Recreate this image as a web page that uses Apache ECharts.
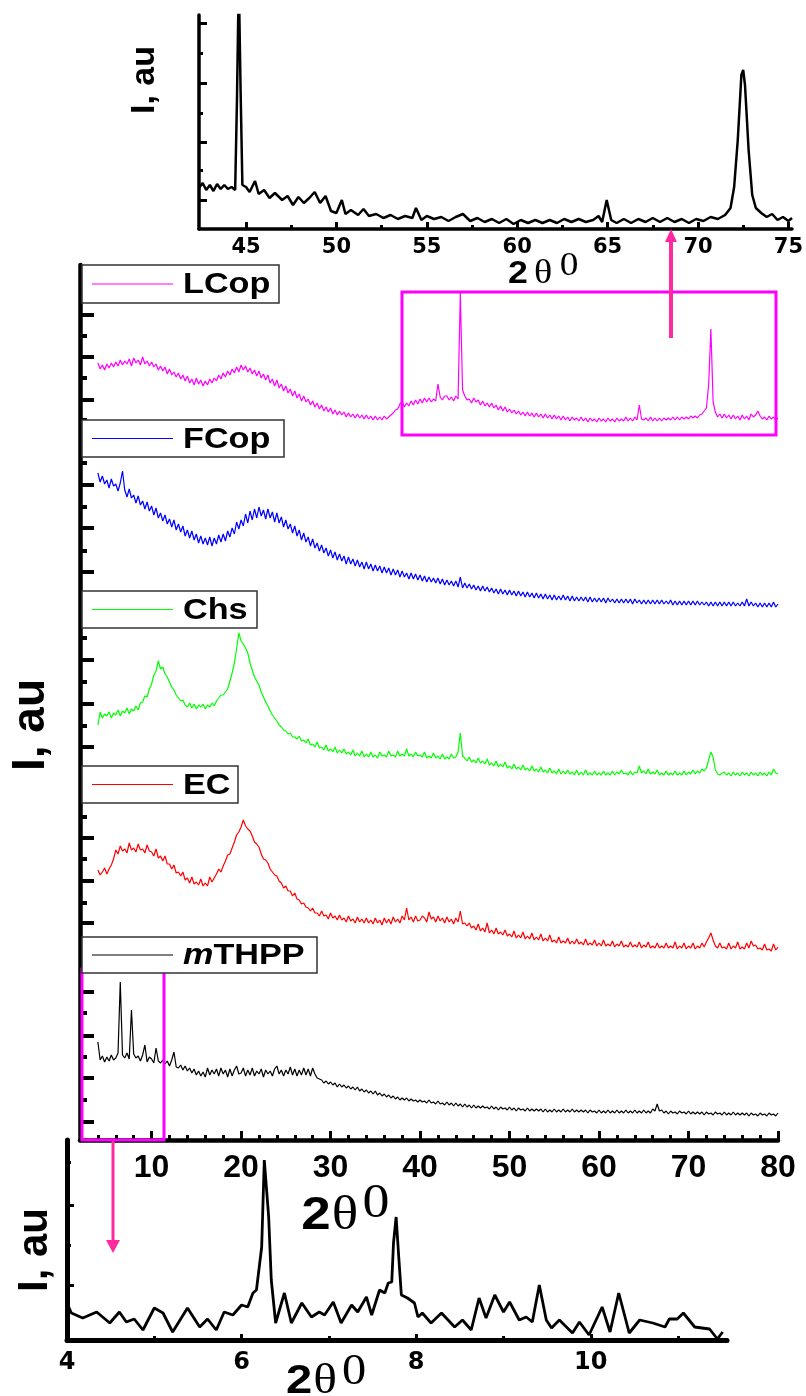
<!DOCTYPE html>
<html><head><meta charset="utf-8">
<script src="https://cdn.jsdelivr.net/npm/echarts@6/dist/echarts.min.js"></script>
<style>html,body{margin:0;padding:0;background:#fff}#c{width:806px;height:1396px}</style>
</head><body><div id="c"></div>
<script>
// ---------------- DATA ----------------
const seriesNames = ['LCop', 'FCop', 'Chs', 'EC', 'mTHPP'];
// vertical stacking offsets of each pattern (au)
const seriesOffsets = [710, 530, 355, 180, 0];

// measurement angles (2θ, degrees) of the main panel
const twoTheta = [4,4.25,4.5,4.75,5,5.25,5.5,5.75,6,6.25,6.5,6.75,7,7.25,7.5,7.75,8,8.25,8.5,8.75,9,9.25,9.5,9.75,10,10.25,10.5,10.75,11,11.25,11.5,11.75,12,12.25,12.5,12.75,13,13.25,13.5,13.75,14,14.25,14.5,14.75,15,15.25,15.5,15.75,16,16.25,16.5,16.75,17,17.25,17.5,17.75,18,18.25,18.5,18.75,19,19.25,19.5,19.75,20,20.25,20.5,20.75,21,21.25,21.5,21.75,22,22.25,22.5,22.75,23,23.25,23.5,23.75,24,24.25,24.5,24.75,25,25.25,25.5,25.75,26,26.25,26.5,26.75,27,27.25,27.5,27.75,28,28.25,28.5,28.75,29,29.25,29.5,29.75,30,30.25,30.5,30.75,31,31.25,31.5,31.75,32,32.25,32.5,32.75,33,33.25,33.5,33.75,34,34.25,34.5,34.75,35,35.25,35.5,35.75,36,36.25,36.5,36.75,37,37.25,37.5,37.75,38,38.25,38.5,38.75,39,39.25,39.5,39.75,40,40.25,40.5,40.75,41,41.25,41.5,41.75,42,42.25,42.5,42.75,43,43.25,43.5,43.75,44,44.25,44.5,44.75,45,45.25,45.5,45.75,46,46.25,46.5,46.75,47,47.25,47.5,47.75,48,48.25,48.5,48.75,49,49.25,49.5,49.75,50,50.25,50.5,50.75,51,51.25,51.5,51.75,52,52.25,52.5,52.75,53,53.25,53.5,53.75,54,54.25,54.5,54.75,55,55.25,55.5,55.75,56,56.25,56.5,56.75,57,57.25,57.5,57.75,58,58.25,58.5,58.75,59,59.25,59.5,59.75,60,60.25,60.5,60.75,61,61.25,61.5,61.75,62,62.25,62.5,62.75,63,63.25,63.5,63.75,64,64.25,64.5,64.75,65,65.25,65.5,65.75,66,66.25,66.5,66.75,67,67.25,67.5,67.75,68,68.25,68.5,68.75,69,69.25,69.5,69.75,70,70.25,70.5,70.75,71,71.25,71.5,71.75,72,72.25,72.5,72.75,73,73.25,73.5,73.75,74,74.25,74.5,74.75,75,75.25,75.5,75.75,76,76.25,76.5,76.75,77,77.25,77.5,77.75,78,78.25,78.5,78.75,79,79.25,79.5,79.75,80];

const LCop = [67,61,65,60, 66,62,67,63, 68,64,70,65, 69,66,71,64, 72,67,70,65, 73,66,69,64, 68,63,66,60, 64,59,63,56, 61,55,58,53, 57,51,55,49, 54,47,51,45, 52,46,50,44, 49,45,51,47, 52,49,55,51, 57,53,59,55, 61,57,63,58, 65,60,64,58, 62,56,60,54, 59,52,56,50, 55,47,51,44, 50,42,46,39, 44,37,41,34, 39,32,36,29, 34,28,31,25, 29,23,27,21, 25,19,23,18, 22,16,20,15, 19,15,18,13, 17,13,16,12, 16,12,15,11, 15,11,14,10, 14,10,13,10, 14,11,13,15, 17,20,21,26, 28,23,27,24, 29,25,30,26, 31,27,32,28, 32,28,31,29, 46,33,30,34, 34,30,33,29, 34,31,137,40, 34,30,31,27, 32,28,30,25, 29,24,27,23, 27,22,25,20, 24,19,23,18, 21,17,20,16, 19,15,18,14, 18,14,17,13, 17,13,16,12, 16,12,15,11, 15,11,14,10, 14,10,13,9, 13,10,12,9, 13,9,12,8, 12,9,11,8, 12,9,11,8, 12,9,11,8, 12,9,11,9, 13,9,12,9, 13,10,25,11, 10,12,9,13, 9,12,9,12, 9,12,10,12, 10,13,10,13, 10,13,11,13, 11,14,12,14, 12,15,16,19, 22,45,101,28, 18,13,16,12, 16,12,15,11, 15,11,14,10, 15,11,14,10, 16,13,15,19, 14,11,13,10, 14,11,13,10, 12];

const FCop = [137,128,134,126, 130,122,131,124, 126,119,127,139, 120,113,121,112, 115,107,114,105, 109,101,108,99, 104,95,102,92, 97,89,95,86, 91,83,90,80, 86,78,84,74, 80,72,79,70, 76,67,74,66, 72,65,73,64, 72,66,75,68, 76,69,79,73, 82,76,88,81, 90,84,96,87, 99,90,101,92, 103,94,100,91, 101,92,98,88, 97,87,93,83, 90,81,86,77, 84,74,80,70, 77,68,73,64, 71,62,67,59, 65,57,62,54, 60,52,58,50, 56,49,54,46, 53,46,51,44, 50,43,48,41, 48,41,46,39, 45,39,44,37, 43,37,42,35, 41,35,40,33, 39,33,37,31, 37,31,36,30, 35,29,34,28, 33,28,32,27, 32,26,31,25, 30,25,29,24, 29,23,33,22, 27,22,26,21, 25,20,24,19, 24,19,23,18, 22,17,21,16, 21,16,20,15, 20,15,19,14, 19,14,18,13, 18,13,17,12, 17,12,16,11, 16,11,15,10, 15,10,14,10, 15,10,14,9, 14,9,13,9, 13,9,13,8, 13,8,12,8, 12,8,12,7, 12,8,11,7, 11,7,11,7, 11,7,11,6, 11,7,10,6, 10,6,10,6, 10,6,10,6, 10,6,9,6, 10,5,9,5, 9,5,9,5, 9,5,9,5, 9,5,8,5, 8,4,8,4, 8,4,8,4, 8,4,8,4, 8,4,7,4, 8,4,11,4, 8,4,7,3, 7,3,7,3, 7,3,8,3, 6];

const Chs = [60,73,67,71, 69,73,67,72, 70,75,69,74, 72,77,71,76, 74,79,75,82, 83,89,88,96, 101,110,114,124, 116,118,111,108, 103,98,95,90, 87,84,85,80, 78,82,77,81, 76,80,78,81, 76,80,78,82, 79,84,87,90, 90,93,96,104, 112,122,136,152, 144,141,137,132, 122,115,108,104, 100,93,88,83, 79,74,70,67, 64,60,58,55, 54,51,52,48, 48,46,49,44, 45,42,46,40, 41,38,43,37, 38,35,40,34, 36,33,38,32, 35,32,36,31, 33,30,35,29, 32,29,34,28, 31,28,33,28, 30,27,33,29, 30,28,34,29, 30,28,34,29, 31,29,36,29, 31,28,33,29, 30,28,33,27, 29,27,32,27, 29,26,31,26, 28,26,31,27, 28,33,52,29, 27,24,28,23, 25,22,27,22, 24,21,26,20, 22,19,24,18, 21,18,23,17, 19,16,21,16, 18,15,20,15, 17,14,19,14, 16,13,18,13, 15,12,17,12, 14,11,16,11, 14,11,15,11, 13,10,15,10, 13,10,15,10, 12,10,14,10, 12,10,14,10, 12,10,14,10, 13,11,15,11, 12,10,14,10, 13,12,19,12, 14,11,16,11, 13,11,15,10, 12,10,14,10, 12,10,14,10, 12,10,14,10, 13,11,15,11, 14,12,16,14, 17,25,33,28, 15,11,10,12, 13,10,12,9, 13,10,12,9, 13,10,12,9, 13,10,12,9, 13,10,12,9, 13,10,16,12, 11];

const EC = [90,85,88,92, 86,91,95,101, 110,106,114,109, 111,107,117,110, 112,108,116,110, 111,107,115,109, 108,104,111,102, 104,99,104,96, 96,91,95,87, 88,84,88,80, 82,77,83,76, 78,75,81,74, 77,74,83,78, 82,86,91,88, 94,99,105,106, 112,118,125,128, 133,140,134,131, 129,124,118,116, 113,106,101,100, 97,91,88,85, 84,79,77,72, 74,69,69,64, 67,61,60,56, 57,53,52,49, 52,47,47,44, 49,44,45,41, 47,42,44,40, 45,40,42,38, 44,39,41,37, 43,38,41,37, 42,37,40,36, 42,37,40,35, 42,37,41,36, 43,38,41,37, 44,40,52,40, 43,38,44,39, 40,44,42,38, 48,41,43,38, 44,39,42,37, 43,38,41,36, 42,38,49,36, 37,34,37,32, 34,30,36,29, 32,28,37,27, 30,26,32,26, 28,25,30,24, 26,23,29,22, 25,22,28,21, 24,21,27,20, 23,20,26,19, 22,19,25,18, 20,17,23,17, 19,17,22,16, 19,16,21,16, 18,15,21,15, 17,15,20,14, 17,14,20,14, 16,14,19,13, 16,14,19,13, 15,13,18,13, 15,13,18,12, 15,13,18,12, 14,12,17,12, 14,12,17,12, 14,12,18,11, 14,12,17,11, 14,12,17,11, 14,12,17,13, 18,22,27,20, 14,12,17,12, 13,11,17,11, 14,12,18,11, 13,11,17,12, 19,14,15,11, 12,10,16,10, 11,9,16,10, 13];

const mTHPP = [98,80,84,78, 83,79,85,80, 82,87,158,85, 82,87,81,130, 86,82,84,79, 85,95,78,83, 81,77,92,79, 77,80,76,79, 74,80,88,73, 72,75,70,74, 69,72,67,71, 65,69,64,68, 63,72,65,70, 66,71,64,72, 66,70,63,71, 64,70,74,66, 67,72,64,70, 65,72,64,69, 66,71,63,70, 66,69,64,71, 74,66,70,64, 70,66,73,65, 71,64,70,65, 72,65,71,64, 72,66,62,61, 60,57,59,56, 58,55,57,53, 56,53,55,52, 54,51,53,50, 53,49,51,48, 50,47,49,46, 49,45,47,44, 46,43,45,42, 44,41,43,40, 42,40,42,39, 41,39,40,38, 40,38,39,37, 40,37,38,36, 39,36,37,35, 38,35,37,34, 37,34,36,33, 36,33,35,32, 35,32,34,32, 34,32,33,31, 34,31,33,30, 33,31,32,30, 33,30,32,29, 32,30,31,29, 32,29,31,29, 31,29,31,28, 31,28,30,28, 31,28,30,28, 31,28,30,28, 31,28,30,28, 30,28,30,27, 30,28,29,27, 30,27,29,27, 30,27,29,27, 30,27,29,27, 30,27,29,27, 30,27,29,27, 30,27,29,27, 31,29,36,29, 30,27,29,26, 29,27,28,26, 29,27,28,26, 29,26,28,26, 28,26,28,25, 28,26,27,25, 28,26,27,25, 28,25,27,25, 28,25,27,25, 27,25,27,24, 27,25,26,24, 27,25,26,24, 27,25,26,24, 27];

// top inset: LCop, 2theta 42.4 - 75.2  [2θ, I]
const lcopZoom = [[42.4,41],[42.6,46],[42.8,39],[43,44],[43.2,38],[43.4,45],[43.6,40],[43.8,44],[44,40],[44.2,42],[44.4,39],[44.5,129],[44.6,250],[44.7,139],[44.8,44],[45,42],[45.2,37],[45.5,48],[45.7,35],[46,39],[46.3,31],[46.6,36],[47,29],[47.3,33],[47.6,24],[47.9,32],[48.2,26],[48.5,31],[48.8,37],[49.1,26],[49.4,33],[49.7,18],[50,16],[50.3,29],[50.5,15],[50.8,19],[51.2,14],[51.5,20],[51.8,13],[52.2,15],[52.6,11],[53,14],[53.4,10],[53.8,13],[54.2,11],[54.4,21],[54.7,9],[55,13],[55.4,10],[55.8,12],[56.2,8],[56.6,12],[57,15],[57.4,8],[57.8,11],[58.2,7],[58.6,10],[59,6],[59.4,10],[59.8,5],[60.2,9],[60.6,6],[61,9],[61.4,6],[61.8,9],[62.2,6],[62.6,10],[63,7],[63.4,10],[63.8,7],[64.2,9],[64.5,13],[64.7,7],[64.95,29],[65.2,9],[65.5,6],[65.9,10],[66.3,6],[66.7,10],[67.1,7],[67.5,11],[67.9,7],[68.3,11],[68.7,7],[69.1,10],[69.5,6],[69.9,10],[70.3,8],[70.7,12],[71.1,10],[71.5,14],[71.8,21],[72,42],[72.2,89],[72.4,154],[72.5,159],[72.6,144],[72.8,79],[73,34],[73.2,21],[73.5,16],[73.8,12],[74.1,15],[74.4,9],[74.7,12],[75,8],[75.2,11]];

// bottom inset: mTHPP, 2theta 4 - 11.55  [2θ, I]
const mthppZoom = [[4,37],[4.05,27],[4.18,22],[4.34,28],[4.49,17],[4.6,28],[4.68,18],[4.77,21],[4.87,10],[5,32],[5.1,27],[5.21,8],[5.38,32],[5.52,13],[5.61,21],[5.71,10],[5.8,28],[5.9,25],[6,35],[6.07,33],[6.13,47],[6.17,50],[6.23,93],[6.26,180],[6.28,182],[6.31,123],[6.34,60],[6.39,17],[6.49,47],[6.57,17],[6.69,37],[6.8,23],[6.89,28],[6.95,25],[7.05,38],[7.14,17],[7.26,35],[7.33,28],[7.43,43],[7.49,25],[7.58,50],[7.64,47],[7.68,57],[7.72,58],[7.74,97],[7.77,123],[7.8,83],[7.83,45],[7.9,42],[7.98,37],[8.02,23],[8.07,27],[8.17,17],[8.29,27],[8.44,13],[8.53,20],[8.63,10],[8.72,42],[8.8,22],[8.9,45],[9,28],[9.07,38],[9.18,20],[9.26,23],[9.33,18],[9.41,55],[9.49,20],[9.55,12],[9.64,20],[9.79,7],[9.87,18],[9.98,5],[10.13,33],[10.22,8],[10.32,47],[10.44,7],[10.56,20],[10.71,17],[10.85,13],[10.9,21],[10.99,21],[11.06,27],[11.19,13],[11.36,11],[11.45,1],[11.51,8]];

// tick marks / labels
const mainXLabels = [10, 20, 30, 40, 50, 60, 70, 80];
const mainXMinor = [4, 6, 8, 12, 14, 16, 18, 22, 24, 26, 28, 32, 34, 36, 38, 42, 44, 46, 48, 52, 54, 56, 58, 62, 64, 66, 68, 72, 74, 76, 78];
const mainYMajor = [825, 783, 740, 655, 612, 568, 480, 436, 393, 302, 259, 217, 148, 104, 62, 18];
const mainYMinor = [804, 762, 720, 677, 633, 589, 502, 458, 414, 323, 281, 237, 127, 83, 40];
const topXLabels = [45, 50, 55, 60, 65, 70, 75];
const topXMinor = [47.5, 52.5, 57.5, 62.5, 67.5, 72.5];
const topYMajor = [29, 87, 146, 206];
const topYMinor = [59, 116, 176];
const botXLabels = [4, 6, 8, 10];
const botXMinor = [5, 7, 9, 11];
const botYMajor = [55, 135];
const botYMinor = [95, 178];

// ---------------- CHART ----------------
const SANS = '"Liberation Sans", Arial, Helvetica, sans-serif';
const WIDE = '"DejaVu Sans", Verdana, sans-serif';
const SERIF = '"Liberation Serif", "Times New Roman", serif';
const colors = ['#ff00ff', '#0000ff', '#00ff00', '#ff0000', '#000000'];
const seriesData = [LCop, FCop, Chs, EC, mTHPP];

function xAx(grid, min, max, major, minor, lw, majLen, minLen, fs, fam, margin, isMinor) {
  return {
    gridIndex: grid, type: 'value', min: min, max: max, position: 'bottom',
    axisLine: { show: !isMinor, onZero: false, lineStyle: { color: '#000', width: lw } },
    axisTick: { show: true, inside: true, length: isMinor ? minLen : majLen,
      customValues: isMinor ? minor : major, lineStyle: { color: '#000', width: 3 } },
    axisLabel: isMinor ? { show: false } : { show: true, customValues: major, color: '#000',
      fontSize: fs, fontWeight: 'bold', fontFamily: fam, margin: margin },
    splitLine: { show: false }
  };
}
function yAx(grid, min, max, major, minor, lw, majLen, minLen, tw, isMinor) {
  return {
    gridIndex: grid, type: 'value', min: min, max: max, position: 'left',
    axisLine: { show: !isMinor, onZero: false, lineStyle: { color: '#000', width: lw } },
    axisTick: { show: true, inside: true, length: isMinor ? minLen : majLen,
      customValues: isMinor ? minor : major, lineStyle: { color: '#000', width: tw } },
    axisLabel: { show: false },
    splitLine: { show: false }
  };
}

const series = [];
series.push({ type: 'line', xAxisIndex: 0, yAxisIndex: 0, data: lcopZoom, symbol: 'none',
  lineStyle: { color: '#000', width: 2.5 }, clip: true, z: 3 });
seriesData.forEach((d, i) => {
  series.push({ name: seriesNames[i], type: 'line', xAxisIndex: 2, yAxisIndex: 2,
    data: twoTheta.map((t, j) => [t, d[j] + seriesOffsets[i]]), symbol: 'none',
    lineStyle: { color: colors[i], width: 1.2 }, z: 3 });
});
series.push({ type: 'line', xAxisIndex: 4, yAxisIndex: 4, data: mthppZoom, symbol: 'none',
  lineStyle: { color: '#000', width: 2.8 }, clip: true, z: 3 });

// legend boxes
const legendBoxes = [
  { x: 82, y: 265, w: 197, h: 38 },
  { x: 82, y: 420, w: 202, h: 37 },
  { x: 82, y: 591, w: 175, h: 37 },
  { x: 82, y: 766, w: 156, h: 37 },
  { x: 82, y: 937, w: 235, h: 36 }
];
const legendTexts = ['LCop', 'FCop', 'Chs', 'EC', '{i|m}THPP'];
const gfx = [];
legendBoxes.forEach((b, i) => {
  const cy = b.y + b.h / 2;
  gfx.push({ type: 'rect', z: 100, shape: { x: b.x, y: b.y, width: b.w, height: b.h },
    style: { fill: '#fff', stroke: '#333', lineWidth: 1.5 } });
  gfx.push({ type: 'line', z: 101, shape: { x1: 92, y1: cy, x2: 173, y2: cy },
    style: { stroke: colors[i], lineWidth: 1.2 } });
  gfx.push({ type: 'text', z: 101, x: 183, y: cy + 1, scaleX: 1.14,
    style: { text: legendTexts[i], font: 'bold 30px ' + SANS, fill: '#000',
      align: 'left', verticalAlign: 'middle', textAlign: 'left', textVerticalAlign: 'middle',
      rich: { i: { fontStyle: 'italic', fontWeight: 'bold', fontSize: 30, fontFamily: SANS, fill: '#000' } } } });
});
// magenta boxes
gfx.push({ type: 'rect', z: 90, shape: { x: 402, y: 292, width: 374, height: 143 },
  style: { fill: null, stroke: '#ff00ff', lineWidth: 3 } });
gfx.push({ type: 'rect', z: 90, shape: { x: 82, y: 969, width: 82, height: 171 },
  style: { fill: null, stroke: '#ff00ff', lineWidth: 3 } });
// arrows
const arrowColor = '#ff2aa0';
gfx.push({ type: 'line', z: 90, shape: { x1: 671, y1: 338, x2: 671, y2: 240 },
  style: { stroke: arrowColor, lineWidth: 4 } });
gfx.push({ type: 'polygon', z: 90, shape: { points: [[671, 229], [665, 242], [677, 242]] },
  style: { fill: arrowColor } });
gfx.push({ type: 'line', z: 90, shape: { x1: 113, y1: 1141, x2: 113, y2: 1242 },
  style: { stroke: arrowColor, lineWidth: 3 } });
gfx.push({ type: 'polygon', z: 90, shape: { points: [[113, 1253], [106, 1240], [120, 1240]] },
  style: { fill: arrowColor } });

// axis titles
function txt(t, x, y, font, rot, sx) {
  return { type: 'text', z: 100, x: x, y: y, rotation: rot || 0, scaleX: sx || 1,
    style: { text: t, font: font, fill: '#000', align: 'center', verticalAlign: 'middle',
      textAlign: 'center', textVerticalAlign: 'middle' } };
}
gfx.push(txt('I, au', 31, 725, 'bold 46px ' + SANS, Math.PI / 2));
gfx.push(txt('I, au', 145, 80, 'bold 34px ' + SANS, Math.PI / 2));
gfx.push(txt('I, au', 35, 1250, 'bold 42px ' + SANS, Math.PI / 2));
// 2θ0 titles
function twoThetaTitle(x2, xt, x0, y, fs) {
  gfx.push(txt('2', x2, y, 'bold ' + fs + 'px ' + SANS, 0, 1.15));
  gfx.push(txt('θ', xt, y, (fs + 2) + 'px ' + SERIF, 0, 1.15));
  gfx.push(txt('0', x0, y - Math.round(fs * 0.25), (fs + 3) + 'px ' + SERIF, 0, 1.1));
}
twoThetaTitle(316, 345, 376, 1216, 46);
twoThetaTitle(518, 543, 569, 274, 31);
twoThetaTitle(299, 325, 354, 1382, 41);

const option = {
  animation: false,
  backgroundColor: '#fff',
  grid: [
    { left: 199, top: 15, width: 598, height: 214 },
    { left: 80, top: 265, width: 698, height: 875 },
    { left: 67, top: 1140, width: 660, height: 200 }
  ],
  xAxis: [
    xAx(0, 42.4, 75.2, topXLabels, topXMinor, 3.5, 7, 4, 21, WIDE, 8, false),
    xAx(0, 42.4, 75.2, topXLabels, topXMinor, 3.5, 7, 4, 21, WIDE, 8, true),
    xAx(1, 2, 80, mainXLabels, mainXMinor, 4.5, 9, 5, 32, SANS, 12, false),
    xAx(1, 2, 80, mainXLabels, mainXMinor, 4.5, 9, 5, 32, SANS, 12, true),
    xAx(2, 4, 11.56, botXLabels, botXMinor, 5, 6, 4, 24, WIDE, 11, false),
    xAx(2, 4, 11.56, botXLabels, botXMinor, 5, 6, 4, 24, WIDE, 11, true)
  ],
  yAxis: [
    yAx(0, 0, 214, topYMajor, topYMinor, 3.5, 8, 4, 3, false),
    yAx(0, 0, 214, topYMajor, topYMinor, 3.5, 8, 4, 3, true),
    yAx(1, 0, 875, mainYMajor, mainYMinor, 4.5, 14, 7, 4, false),
    yAx(1, 0, 875, mainYMajor, mainYMinor, 4.5, 14, 7, 4, true),
    yAx(2, 0, 200, botYMajor, botYMinor, 5, 7, 4, 3, false),
    yAx(2, 0, 200, botYMajor, botYMinor, 5, 7, 4, 3, true)
  ],
  series: series,
  graphic: { elements: gfx }
};
const chart = echarts.init(document.getElementById('c'), null, { renderer: 'canvas' });
chart.setOption(option);
</script></body></html>
